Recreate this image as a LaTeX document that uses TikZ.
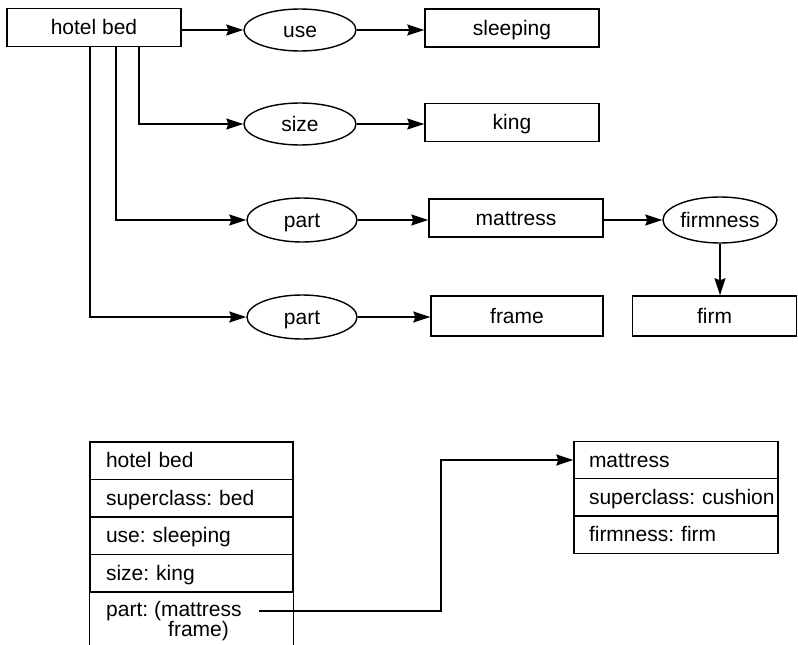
\documentclass[tikz,border=0pt]{standalone}
\usepackage{fontspec}
\setmainfont{Liberation Sans}
\usetikzlibrary{arrows.meta,shapes.geometric}
\frenchspacing
\begin{document}
\begin{tikzpicture}[x=1pt,y=-1pt,
  every node/.style={font=\fontsize{21}{25}\selectfont, text height=17pt, text depth=3pt},
  ln/.style={line width=1.4pt},
  box/.style={draw, ln, minimum width=174pt, minimum height=38pt, inner sep=0pt},
  oval/.style={draw, ellipse, ln, minimum width=112pt, minimum height=42pt, inner sep=0pt},
  arr/.style={ln, -{Stealth[length=17pt,width=11pt,inset=2pt]}},
  cell/.style={draw, ln, minimum width=203pt, minimum height=37.5pt, inner xsep=16pt, inner ysep=0pt, text width=171pt, align=left},
  rcell/.style={draw, ln, minimum width=204pt, minimum height=37.3pt, inner xsep=15pt, inner ysep=0pt, text width=174pt, align=left}
]
\useasboundingbox (0,0) rectangle (798,645);

% ---- top semantic network ----
\node[box] (hb) at (94,27.5) {hotel bed};
\node[oval] (use) at (300,30) {use};
\node[box] (slp) at (512,28) {sleeping};
\node[oval] (size) at (300,124) {size};
\node[box] (king) at (512,122.5) {king};
\node[oval, minimum width=110pt, minimum height=44pt] (part1) at (302,220) {part};
\node[box] (matt) at (516,218) {mattress};
\node[oval, minimum width=114pt, minimum height=46pt] (firmn) at (720,220) {firmness};
\node[oval, minimum width=110pt, minimum height=44pt] (part2) at (302,317) {part};
\node[box, minimum width=172pt, minimum height=40pt] (frame) at (517,316) {frame};
\node[box, minimum width=164pt, minimum height=40pt] (firm) at (714.5,316) {firm};

\draw[arr] (hb.east |- use.west) -- (use.west);
\draw[arr] (use.east) -- (use.east -| slp.west);
\draw[arr] ([xshift=45pt]hb.south) |- (size.west);
\draw[arr] (size.east) -- (size.east -| king.west);
\draw[arr] ([xshift=22pt]hb.south) |- (part1.west);
\draw[arr] (part1.east) -- (part1.east -| matt.west);
\draw[arr] (matt.east |- firmn.west) -- (firmn.west);
\draw[arr] (firmn.south) -- (firmn.south |- firm.north);
\draw[arr] ([xshift=-4pt]hb.south) |- (part2.west);
\draw[arr] (part2.east) -- (part2.east -| frame.west);

% ---- bottom frames ----
\node[cell] (f1) at (191.5,460.75) {hotel bed};
\node[cell] (f2) at (191.5,498.25) {superclass: bed};
\node[cell] (f3) at (191.5,535.75) {use: sleeping};
\node[cell] (f4) at (191.5,573.25) {size: king};
\draw[ln] (f4.south west) -- (f4.south west |- 0,645);
\draw[ln] (f4.south east) -- (f4.south east |- 0,645);
\node[anchor=north west, inner sep=0pt, align=left, text height=, text depth=, font=\fontsize{21}{17}\selectfont] (f5) at (106,601)
  {part: (mattress\\\hspace*{62pt}frame)};

\node[rcell] (m1) at (676,460) {mattress};
\node[rcell] (m2) at (676,497.3) {\mbox{superclass: cushion}};
\node[rcell] (m3) at (676,534.6) {firmness: firm};

\coordinate (pstart) at (259,611);
\coordinate (bend) at (441,611);
\draw[arr] (pstart) -- (bend) |- (m1.west);
\end{tikzpicture}
\end{document}
